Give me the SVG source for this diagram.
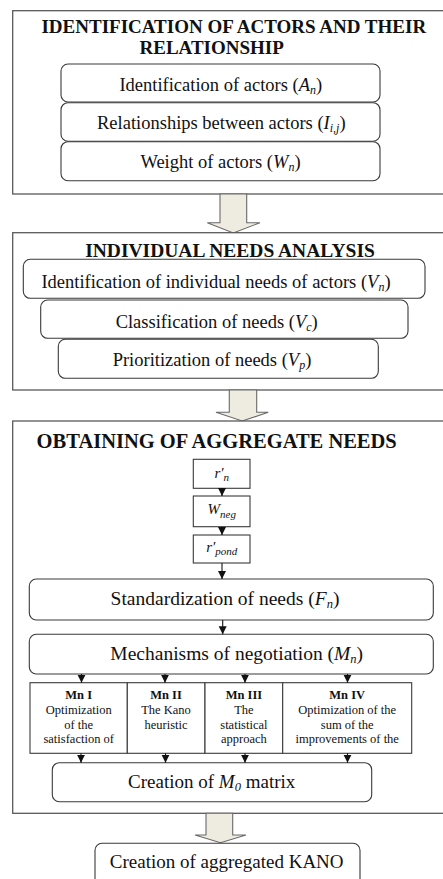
<svg xmlns="http://www.w3.org/2000/svg" width="443" height="879" viewBox="0 0 443 879">
<defs>
<style>
.sec{fill:#fff;stroke:#5a5a5a;stroke-width:1.3}
.rb{fill:#fff;stroke:#3a3a3a;stroke-width:1.1}
.sq{fill:#fff;stroke:#3a3a3a;stroke-width:1.1}
.blk{fill:#eeece1;stroke:#6a6a6a;stroke-width:1.1}
.t{font-family:"Liberation Serif","Times New Roman",serif;fill:#111;text-anchor:middle}
.h{font-weight:bold}
.i{font-style:italic}
.m{font-family:"Liberation Serif","DejaVu Serif",serif;font-style:italic;fill:#111;text-anchor:middle;font-size:15px}
.c{stroke:#111;stroke-width:1.1;fill:none}
</style>
<marker id="ah" markerUnits="userSpaceOnUse" markerWidth="9" markerHeight="9" refX="8" refY="4.5" orient="auto">
<path d="M0,0.5 L8,4.5 L0,8.5 z" fill="#111"/>
</marker>
</defs>
<rect width="443" height="879" fill="#fff"/>

<g id="section1">
<rect class="sec" x="12.7" y="10.7" width="440" height="183.3"/>
<text class="t h" x="233.8" y="32.5" font-size="19">IDENTIFICATION OF ACTORS AND THEIR</text>
<text class="t h" x="211.7" y="53.8" font-size="19">RELATIONSHIP</text>
</g>
<g id="actors">
<rect class="rb" x="61" y="64" width="319" height="38" rx="7"/>
<text class="t" x="220.8" y="90.7" font-size="18.5">Identification of actors (<tspan class="i">A</tspan><tspan class="i" font-size="12" dy="3">n</tspan><tspan dy="-3">)</tspan></text>
</g>
<g id="relationships">
<rect class="rb" x="61" y="102.7" width="319" height="38.5" rx="7"/>
<text class="t" x="221.3" y="129.3" font-size="18.5">Relationships between actors (<tspan class="i">I</tspan><tspan class="i" font-size="12" dy="3">i,j</tspan><tspan dy="-3">)</tspan></text>
</g>
<g id="weight">
<rect class="rb" x="61" y="141.7" width="319" height="39" rx="7"/>
<text class="t" x="220.5" y="168.3" font-size="18.5">Weight of actors (<tspan class="i">W</tspan><tspan class="i" font-size="12" dy="3">n</tspan><tspan dy="-3">)</tspan></text>
</g>

<g id="arrow1">
<polygon class="blk" points="220,194 246.7,194 246.7,222.7 260,222.7 233.3,233 207.3,222.7 220,222.7"/>
</g>

<g id="section2">
<rect class="sec" x="12.7" y="232.7" width="440" height="157.3"/>
<text class="t h" x="230" y="256.7" font-size="19.5">INDIVIDUAL NEEDS ANALYSIS</text>
</g>
<g id="individual">
<rect class="rb" x="23.3" y="259.3" width="401.7" height="39" rx="7"/>
<text class="t" x="216" y="288" font-size="18.5">Identification of individual needs of actors (<tspan class="i">V</tspan><tspan class="i" font-size="12" dy="3">n</tspan><tspan dy="-3">)</tspan></text>
</g>
<g id="classification">
<rect class="rb" x="40.7" y="300" width="367.3" height="38.3" rx="7"/>
<text class="t" x="216.7" y="328.3" font-size="18.5">Classification of needs (<tspan class="i">V</tspan><tspan class="i" font-size="12" dy="3">c</tspan><tspan dy="-3">)</tspan></text>
</g>
<g id="prioritization">
<rect class="rb" x="58.3" y="339.3" width="320" height="39" rx="7"/>
<text class="t" x="212" y="366" font-size="18.5">Prioritization of needs (<tspan class="i">V</tspan><tspan class="i" font-size="12" dy="3">p</tspan><tspan dy="-3">)</tspan></text>
</g>

<g id="arrow2">
<polygon class="blk" points="229.3,390 256.7,390 256.7,412.3 268.3,412.3 242.2,421 216,412.3 229.3,412.3"/>
</g>

<g id="section3">
<rect class="sec" x="12.7" y="421" width="440" height="392.3"/>
<text class="t h" x="216.7" y="448.3" font-size="20.5">OBTAINING OF AGGREGATE NEEDS</text>
</g>
<g id="rn">
<rect class="sq" x="193.3" y="459.3" width="56.7" height="29"/>
<text class="m" x="221.7" y="478">r′<tspan font-size="11" dy="3">n</tspan></text>
</g>
<g id="wneg">
<rect class="sq" x="193.3" y="496" width="56.7" height="30.7"/>
<text class="m" x="221.7" y="514">W<tspan font-size="11" dy="4">neg</tspan></text>
</g>
<g id="rpond">
<rect class="sq" x="193.3" y="535" width="56.7" height="28"/>
<text class="m" x="221.7" y="552">r′<tspan font-size="11" dy="3">pond</tspan></text>
</g>
<g id="standardization">
<rect class="rb" x="29.3" y="579" width="404" height="41" rx="7"/>
<text class="t" x="225" y="605" font-size="19.5">Standardization of needs (<tspan class="i">F</tspan><tspan class="i" font-size="12.5" dy="3">n</tspan><tspan dy="-3">)</tspan></text>
</g>
<g id="mechanisms">
<rect class="rb" x="29.3" y="634.3" width="404" height="39.7" rx="7"/>
<text class="t" x="236.7" y="660" font-size="19.5">Mechanisms of negotiation (<tspan class="i">M</tspan><tspan class="i" font-size="12.5" dy="3">n</tspan><tspan dy="-3">)</tspan></text>
</g>
<g id="mn1">
<rect class="sq" x="30" y="682.7" width="97.3" height="70.6"/>
<text class="t" x="78.7" y="699.3" font-size="12.5"><tspan class="h">Mn I</tspan><tspan x="78.7" dy="15">Optimization</tspan><tspan x="78.7" dy="14.5">of the</tspan><tspan x="78.7" dy="14.5">satisfaction of</tspan></text>
</g>
<g id="mn2">
<rect class="sq" x="127.3" y="682.7" width="77.7" height="70.6"/>
<text class="t" x="166" y="699.3" font-size="12.5"><tspan class="h">Mn II</tspan><tspan x="166" dy="15">The Kano</tspan><tspan x="166" dy="14.5">heuristic</tspan></text>
</g>
<g id="mn3">
<rect class="sq" x="205" y="682.7" width="77.7" height="70.6"/>
<text class="t" x="243.9" y="699.3" font-size="12.5"><tspan class="h">Mn III</tspan><tspan x="243.9" dy="15">The</tspan><tspan x="243.9" dy="14.5">statistical</tspan><tspan x="243.9" dy="14.5">approach</tspan></text>
</g>
<g id="mn4">
<rect class="sq" x="282.7" y="682.7" width="129" height="70.6"/>
<text class="t" x="347.2" y="699.3" font-size="12.5"><tspan class="h">Mn IV</tspan><tspan x="347.2" dy="15">Optimization of the</tspan><tspan x="347.2" dy="14.5">sum of the</tspan><tspan x="347.2" dy="14.5">improvements of the</tspan></text>
</g>
<g id="m0">
<rect class="rb" x="52.3" y="762.7" width="319.4" height="39" rx="7"/>
<text class="t" x="211.7" y="788.3" font-size="19">Creation of <tspan class="i">M</tspan><tspan class="i" font-size="12.5" dy="3">0</tspan><tspan dy="-3"> matrix</tspan></text>
</g>

<g id="arrow3">
<polygon class="blk" points="206,813.3 232.7,813.3 232.7,835 246,835 220.5,842.7 195,835 206,835"/>
</g>

<g id="kano">
<rect class="rb" x="95" y="843.3" width="265" height="50" rx="7"/>
<text class="t" x="226.7" y="868.3" font-size="19">Creation of aggregated KANO</text>
</g>

<g id="connectors">
<line class="c" x1="222" y1="488.3" x2="222" y2="496" marker-end="url(#ah)"/>
<line class="c" x1="222" y1="526.7" x2="222" y2="535" marker-end="url(#ah)"/>
<line class="c" x1="222" y1="563" x2="222" y2="579" marker-end="url(#ah)"/>
<line class="c" x1="222.7" y1="620" x2="222.7" y2="634.3" marker-end="url(#ah)"/>
<line class="c" x1="81.5" y1="674" x2="81.5" y2="682.7" marker-end="url(#ah)"/>
<line class="c" x1="165" y1="674" x2="165" y2="682.7" marker-end="url(#ah)"/>
<line class="c" x1="245" y1="674" x2="245" y2="682.7" marker-end="url(#ah)"/>
<line class="c" x1="347.5" y1="674" x2="347.5" y2="682.7" marker-end="url(#ah)"/>
<line class="c" x1="81" y1="753.3" x2="81" y2="762.7" marker-end="url(#ah)"/>
<line class="c" x1="165.5" y1="753.3" x2="165.5" y2="762.7" marker-end="url(#ah)"/>
<line class="c" x1="245" y1="753.3" x2="245" y2="762.7" marker-end="url(#ah)"/>
<line class="c" x1="347.5" y1="753.3" x2="347.5" y2="762.7" marker-end="url(#ah)"/>
</g>
</svg>
